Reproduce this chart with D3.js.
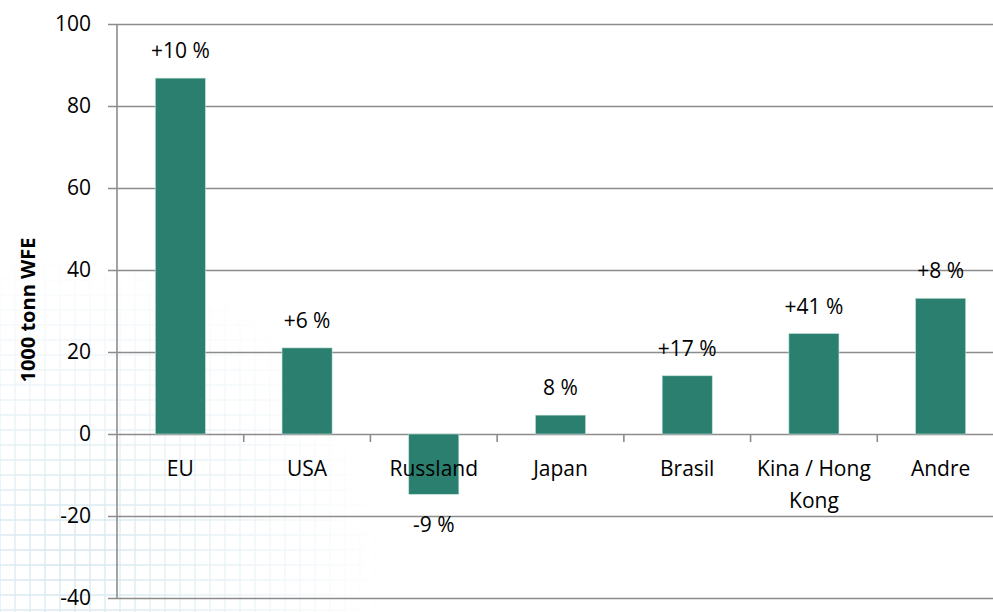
<!DOCTYPE html>
<html>
<head>
<meta charset="utf-8">
<script src="https://cdn.jsdelivr.net/npm/d3@7"></script>
<style>
  body { margin: 0; background: #fff; }
  svg { display: block; font-family: "Open Sans", sans-serif; }
</style>
</head>
<body>
<div id="chart"></div>
<script>
// data
const categories = ['EU', 'USA', 'Russland', 'Japan', 'Brasil', 'Kina / Hong Kong', 'Andre'];
const categoryLines = [['EU'], ['USA'], ['Russland'], ['Japan'], ['Brasil'], ['Kina / Hong', 'Kong'], ['Andre']];
const values = [86.8, 21.0, -14.7, 4.6, 14.2, 24.5, 33.1];
const changeLabels = ['+10 %', '+6 %', '-9 %', '8 %', '+17 %', '+41 %', '+8 %'];
const yTicks = [-40, -20, 0, 20, 40, 60, 80, 100];
const yTitle = '1000 tonn WFE';

const W = 993, H = 612;
const margin = { top: 24, left: 117 };
const width = 887;   // plot runs past the right edge of the picture
const height = 574;

const svgRoot = d3.select('#chart')
    .append('svg')
    .attr('width', W)
    .attr('height', H);

// faint background watermark (decoration only)
const defs = svgRoot.append('defs');
const grad = defs.append('radialGradient')
    .attr('id', 'fade')
    .attr('cx', 70).attr('cy', 560).attr('r', 320)
    .attr('gradientUnits', 'userSpaceOnUse');
grad.append('stop').attr('offset', '0%').attr('stop-color', '#fff').attr('stop-opacity', 1);
grad.append('stop').attr('offset', '100%').attr('stop-color', '#fff').attr('stop-opacity', 0);
defs.append('mask').attr('id', 'wmMask')
    .append('rect').attr('width', W).attr('height', H).attr('fill', 'url(#fade)');

const wm = svgRoot.append('g').attr('mask', 'url(#wmMask)')
    .attr('stroke', '#d3e6ee').attr('stroke-width', 1.3).attr('fill', 'none');
wm.selectAll('line.v')
    .data(d3.range(0, 380, 15))
    .join('line')
    .attr('x1', d => d).attr('x2', d => d)
    .attr('y1', 250).attr('y2', H);
wm.selectAll('line.h')
    .data(d3.range(250, H, 15))
    .join('line')
    .attr('x1', 0).attr('x2', 380)
    .attr('y1', d => d).attr('y2', d => d);

const svg = svgRoot.append('g')
    .attr('transform', `translate(${margin.left}, ${margin.top})`);

// scales
const xScale = d3.scaleBand()
    .domain(categories)
    .range([0, width])
    .paddingInner(0.605)
    .paddingOuter(0.3025);
const yScale = d3.scaleLinear()
    .domain([-40, 100])
    .range([height, 0]);

// gridlines + y tick labels
const yAxis = svg.append('g')
    .call(d3.axisLeft(yScale).tickValues(yTicks).tickSize(-(width + 9)).tickFormat(d => String(d)))
    .attr('transform', `translate(-9, 0)`);
yAxis.select('.domain').remove();
yAxis.selectAll('.tick line')
    .attr('stroke', '#8c8c8c')
    .attr('stroke-width', 1.6);
yAxis.selectAll('.tick text')
    .attr('x', -17)
    .attr('fill', '#000')
    .style('font-size', '21px')
    .style('font-family', '"Open Sans", sans-serif');

// y axis line
svg.append('line')
    .attr('x1', 0).attr('x2', 0)
    .attr('y1', 0).attr('y2', height)
    .attr('stroke', '#8c8c8c')
    .attr('stroke-width', 1.6);

// category boundary ticks below zero line
const step = xScale.step();
svg.selectAll('line.cat-tick')
    .data(categories.slice(1))
    .join('line')
    .attr('class', 'cat-tick')
    .attr('x1', d => xScale(d) - step * xScale.paddingInner() / 2)
    .attr('x2', d => xScale(d) - step * xScale.paddingInner() / 2)
    .attr('y1', yScale(0))
    .attr('y2', yScale(0) + 8)
    .attr('stroke', '#8c8c8c')
    .attr('stroke-width', 1.6);

// bars
svg.selectAll('rect.bar')
    .data(values)
    .join('rect')
    .attr('class', 'bar')
    .attr('x', (d, i) => xScale(categories[i]))
    .attr('width', xScale.bandwidth())
    .attr('y', d => yScale(Math.max(0, d)))
    .attr('height', d => Math.abs(yScale(d) - yScale(0)))
    .attr('fill', '#2a7f6f')
    .attr('stroke', '#bfe0d8')
    .attr('stroke-width', 0.6);

// category labels
svg.selectAll('text.cat')
    .data(categoryLines)
    .join('text')
    .attr('class', 'cat')
    .attr('text-anchor', 'middle')
    .style('font-size', '21px')
    .attr('fill', '#000')
    .each(function (lines, i) {
        const cx = xScale(categories[i]) + xScale.bandwidth() / 2;
        d3.select(this).selectAll('tspan')
            .data(lines)
            .join('tspan')
            .attr('x', cx)
            .attr('y', (l, j) => yScale(0) + 42 + j * 32)
            .text(l => l);
    });

// value change labels
svg.selectAll('text.val')
    .data(values)
    .join('text')
    .attr('class', 'val')
    .attr('text-anchor', 'middle')
    .style('font-size', '21px')
    .attr('fill', '#000')
    .attr('x', (d, i) => xScale(categories[i]) + xScale.bandwidth() / 2)
    .attr('y', d => d >= 0 ? yScale(d) - 20 : yScale(d) + 38)
    .text((d, i) => changeLabels[i]);

// y title
svgRoot.append('text')
    .attr('transform', `translate(35, 310) rotate(-90)`)
    .attr('text-anchor', 'middle')
    .style('font-size', '20px')
    .style('font-weight', 'bold')
    .attr('fill', '#000')
    .text(yTitle);
</script>
</body>
</html>
